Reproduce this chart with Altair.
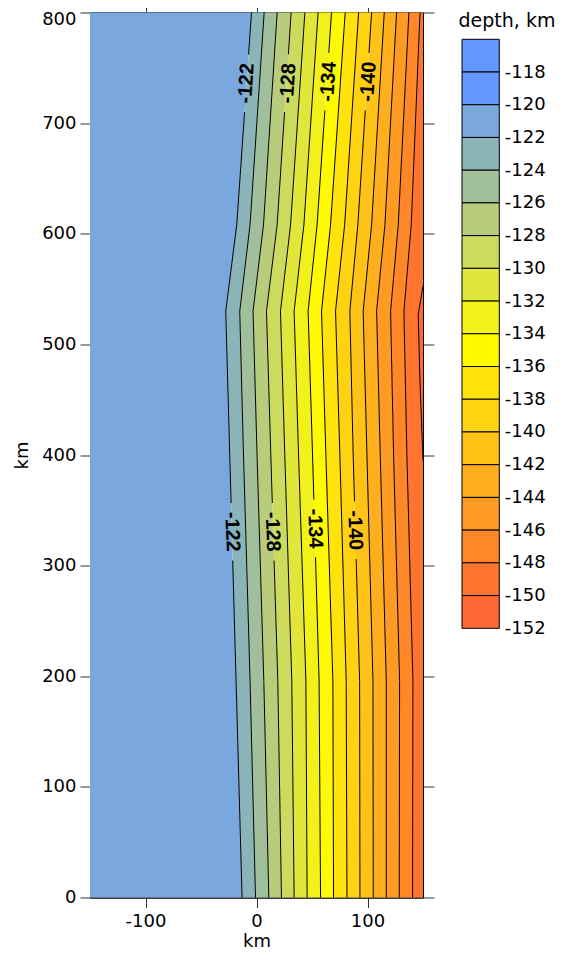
import altair as alt
import pandas as pd
import numpy as np

# ---------------- data ----------------
# contour levels (depth, km) that cross the whole map
levels = [-122, -124, -126, -128, -130, -132, -134, -136, -138, -140, -142, -144, -146, -148]
# heights (km) at which contour positions were read
knot_y = [0, 196, 400, 530, 608, 800]
# x position (km) of each contour level at those heights
x_at_y0 = [-13.0, -0.9, 11.1, 22.5, 33.9, 45.6, 57.7, 69.4, 81.5, 93.2, 105.2, 116.9, 128.6, 140.6]
x_at_y196 = [-18.4, -5.8, 6.6, 19.2, 31.8, 44.5, 56.4, 68.8, 80.8, 92.9, 104.9, 116.9, 128.9, 140.9]
x_at_y400 = [-24.1, -11.7, 0.5, 12.9, 25.5, 37.9, 50.5, 62.5, 75.1, 87.1, 99.5, 111.5, 123.5, 135.5]
x_at_y530 = [-27.7, -15.1, -3.1, 9.0, 21.6, 33.9, 46.5, 58.6, 71.2, 84.1, 96.1, 108.2, 120.8, 132.8]
x_at_y608 = [-17.8, -5.8, 6.3, 18.6, 30.7, 42.7, 54.6, 66.7, 79.4, 91.3, 103.7, 115.7, 127.7, 139.4]
x_at_y800 = [-4.5, 6.9, 18.6, 31.2, 43.6, 55.5, 67.6, 79.9, 92.0, 103.7, 115.1, 126.2, 137.3, 147.3]
contour_rows = [x_at_y0, x_at_y196, x_at_y400, x_at_y530, x_at_y608, x_at_y800]

# small -150 contour against the right edge
c150_y = [395, 468, 527, 553]
c150_x = [150, 147.2, 145.7, 150]

# colour legend
legend_edges = [-116, -118, -120, -122, -124, -126, -128, -130, -132, -134,
                -136, -138, -140, -142, -144, -146, -148, -150, -152]
band_colors = ["#6396FF", "#6396FF", "#79A7DE", "#8AB4B8", "#A1BF9A", "#B8CC7C",
               "#CCDA5D", "#E0E73A", "#F2F21A", "#FFFA00", "#FFE30A", "#FFD312",
               "#FFC318", "#FFAE1E", "#FF9B22", "#FF8728", "#FF742F", "#FF6834"]

# contour labels
label_text = ["-122", "-128", "-134", "-140"]
label_level = [-122, -128, -134, -140]
label_mid_x = [-22.0, 14.4, 52.6, 88.6]
label_mid_y = [330.6, 330.6, 333.6, 332.0]
label_top_x = [-9.0, 28.5, 64.8, 100.9]
label_top_y = [736.0, 736.0, 737.5, 737.5]
label_gap = 26  # half length (km) of the break in the line under a label

x_ticks = [-100, 0, 100]
y_ticks = [0, 100, 200, 300, 400, 500, 600, 700, 800]

# ---------------- tables ----------------
def bname(a, b):
    return f"{a}:{b}"

band_domain = [bname(legend_edges[i], legend_edges[i + 1]) for i in range(len(band_colors))]

depth_edges = [-120] + levels + [-150]
area_rows = []
for yv, xs in zip(knot_y, contour_rows):
    bounds = [-150] + xs + [150]
    for k in range(len(bounds) - 1):
        area_rows.append(dict(band=bname(depth_edges[k], depth_edges[k + 1]),
                              y=yv, xl=bounds[k], xr=bounds[k + 1]))
for yv, xv in zip(c150_y, c150_x):
    area_rows.append(dict(band=bname(-150, -152), y=yv, xl=xv, xr=150))
areas = pd.DataFrame(area_rows).sort_values(["band", "y"])

line_rows = []
for i, lev in enumerate(levels):
    xs = [row[i] for row in contour_rows]
    if lev in label_level:
        j = label_level.index(lev)
        gaps = [(label_mid_y[j] - label_gap, label_mid_y[j] + label_gap),
                (label_top_y[j] - label_gap, label_top_y[j] + label_gap)]
        pieces = [(0, gaps[0][0]), (gaps[0][1], gaps[1][0]), (gaps[1][1], 800)]
    else:
        pieces = [(0, 800)]
    for p, (ya, yb) in enumerate(pieces):
        ys = [ya] + [k for k in knot_y if ya < k < yb] + [yb]
        for yv in ys:
            line_rows.append(dict(seg=f"{lev}_{p}", y=yv, x=float(np.interp(yv, knot_y, xs))))
for yv, xv in zip(c150_y, c150_x):
    line_rows.append(dict(seg="-150_0", y=yv, x=xv))
lines_df = pd.DataFrame(line_rows)

mid_labels = pd.DataFrame(dict(t=label_text, x=label_mid_x, y=label_mid_y))
top_labels = pd.DataFrame(dict(t=label_text, x=label_top_x, y=label_top_y))

legend_df = pd.DataFrame(dict(band=band_domain, hi=legend_edges[:-1], lo=legend_edges[1:]))

# ---------------- chart ----------------
FONT = "DejaVu Sans"
xscale = alt.Scale(domain=[-150, 150], nice=False, zero=False)
yscale = alt.Scale(domain=[0, 800], nice=False, zero=False)
cscale = alt.Scale(domain=band_domain, range=band_colors)

x_main = alt.X("xl:Q", scale=xscale,
               axis=alt.Axis(orient="bottom", values=x_ticks, tickSize=10, labelPadding=5,
                             labelFontSize=18, labelExpr="toString(datum.value)",
                             title="km", titleFontSize=18, titleFontWeight="normal",
                             titleX=166.5, titleY=48.5, titleBaseline="alphabetic",
                             titleAlign="center"))
y_main = alt.Y("y:Q", scale=yscale,
               axis=alt.Axis(orient="left", values=y_ticks, tickSize=10, labelPadding=4,
                             labelFontSize=18,
                             labelOffset={"condition": {"test": "datum.value == 800", "value": 6.5},
                                          "value": 0},
                             title="km", titleFontSize=18,
                             titleFontWeight="normal", titleAngle=270, titleX=-63,
                             titleY=442.5, titleBaseline="alphabetic", titleAlign="center"))

bands = alt.Chart(areas).mark_area(orient="horizontal", interpolate="linear").encode(
    x=x_main, x2="xr:Q", y=y_main,
    color=alt.Color("band:N", scale=cscale, legend=None),
)

contours = alt.Chart(lines_df).mark_line(color="black", strokeWidth=1).encode(
    x=alt.X("x:Q", scale=xscale), y=alt.Y("y:Q", scale=yscale),
    detail="seg:N", order="y:Q",
)

lab_style = dict(font="Arial", fontSize=20, fontWeight="bold", color="black",
                 align="center", baseline="middle")
mid_text = alt.Chart(mid_labels).mark_text(angle=88, **lab_style).encode(
    x=alt.X("x:Q", scale=xscale), y=alt.Y("y:Q", scale=yscale), text="t:N")
top_text = alt.Chart(top_labels).mark_text(angle=274, **lab_style).encode(
    x=alt.X("x:Q", scale=xscale), y=alt.Y("y:Q", scale=yscale), text="t:N")

main = alt.layer(bands, contours, mid_text, top_text)

mirror = alt.Chart(lines_df).mark_point(opacity=0).encode(
    x=alt.X("x:Q", scale=xscale, title=None,
            axis=alt.Axis(orient="top", values=x_ticks, labels=False, tickSize=10)),
    y=alt.Y("y:Q", scale=yscale, title=None,
            axis=alt.Axis(orient="right", values=y_ticks, labels=False, tickSize=11)),
)

legend = alt.Chart(legend_df).mark_rect(stroke="black", strokeWidth=1).encode(
    x=alt.X(datum=0, type="quantitative",
            scale=alt.Scale(domain=[0, 1], range=[372, 409.3]), axis=None),
    x2=alt.X2(datum=1),
    y=alt.Y("hi:Q", scale=alt.Scale(domain=[-152, -116], range=[615.8, 26.8], nice=False, zero=False),
            axis=alt.Axis(orient="right", offset=76.3, values=legend_edges[1:], ticks=False,
                          tickSize=0, domain=False, labelPadding=5, labelFontSize=18,
                          labelExpr="toString(datum.value)",
                          title="depth, km", titleAngle=0, titleX=-41.3, titleY=13.5,
                          titleAlign="left", titleBaseline="alphabetic", titleFontSize=19,
                          titleFontWeight="normal")),
    y2="lo:Q",
    color=alt.Color("band:N", scale=cscale, legend=None),
)

chart = alt.layer(main, mirror, legend).resolve_scale(
    x="independent", y="independent", color="shared"
).properties(
    width=333, height=885,
    autosize=alt.AutoSizeParams(type="none"),
    padding={"left": 82, "top": 4.5, "right": 134, "bottom": 53.5},
).configure_view(
    stroke="black", strokeWidth=1
).configure_axis(
    grid=False, domainColor="black", tickColor="#333", labelColor="black",
    titleColor="black", labelFont=FONT, titleFont=FONT,
)

chart.save("out.html", embed_options={"renderer": "svg", "actions": False})
